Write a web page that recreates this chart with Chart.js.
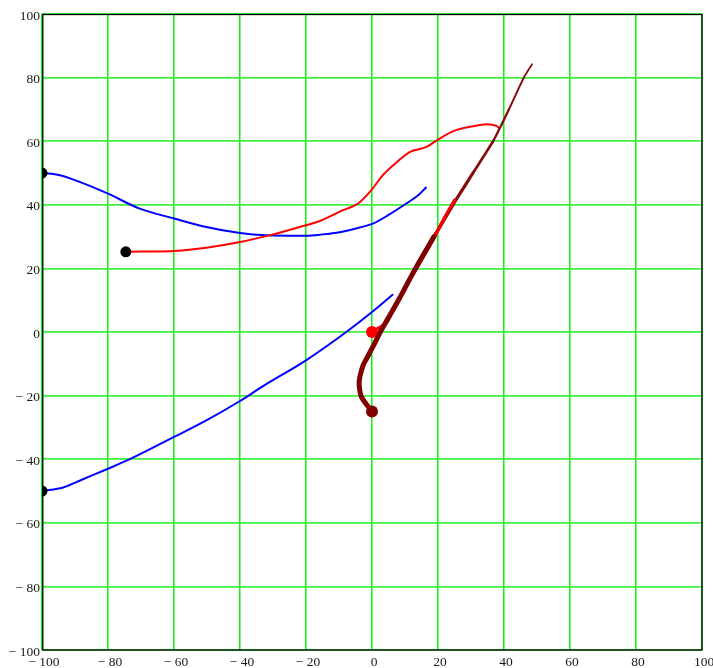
<!DOCTYPE html>
<html>
<head>
<meta charset="utf-8">
<script src="https://cdn.jsdelivr.net/npm/chart.js@4/dist/chart.umd.min.js"></script>
<style>
  html, body { margin: 0; padding: 0; background: #ffffff; }
  #wrap { width: 713px; height: 668px; }
</style>
</head>
<body>
<div id="wrap"><canvas id="c" width="713" height="668"></canvas></div>
<script>
// ---- data ----
const xTicks = [-100, -80, -60, -40, -20, 0, 20, 40, 60, 80, 100];
const yTicks = [-100, -80, -60, -40, -20, 0, 20, 40, 60, 80, 100];

const blueUpperX = [-100, -94.6, -88.6, -80, -70.4, -60, -50.2, -40, -32, -25, -20, -15, -9.8, -4, 0.3, 5, 10.4, 14, 16.5];
const blueUpperY = [50, 49.3, 47.2, 43.5, 38.8, 35.7, 33, 31.1, 30.4, 30.3, 30.3, 30.7, 31.4, 32.8, 34.1, 36.8, 40.4, 43, 45.6];

const blueLowerX = [-100, -93.6, -87.6, -80, -73.4, -60, -50.2, -40, -33, -20, -7.8, 0, 6.4];
const blueLowerY = [-50, -48.9, -46.3, -43, -40, -33, -27.8, -21.7, -17, -8.9, 0, 6.3, 11.9];

const redCurveX = [-74.6, -70, -60, -50.2, -40, -30, -21.9, -15.8, -8.8, -4.2, -0.2, 2.8, 6.4, 11.4, 16.5, 20, 24.5, 30.6, 34.7, 37.7, 38.5];
const redCurveY = [25.2, 25.3, 25.5, 26.5, 28.3, 30.7, 33, 34.9, 38.3, 40.4, 44.6, 48.7, 52.4, 56.6, 58.2, 60.5, 63.1, 64.7, 65.3, 64.8, 64.2];

const redShortX = [0, 2, 4.5, 7.3, 13, 18.5, 22, 25];
const redShortY = [0, 1.3, 3, 9, 19, 29, 36, 41.5];

const maroonX = [0, -3.2, -3.9, -3.7, -2.7, -1.7, 0.8, 2.5, 8, 13.2, 18.8, 24.5, 30.6, 36.7, 41.5, 46, 48.5];
const maroonY = [-25, -20.4, -16.5, -14.2, -10.5, -8.5, -3.6, 0, 10, 20, 30, 40, 50, 60, 70, 80, 84.2];
const maroonSplit = 10; // index where the upper, thinner part begins

// ---- helpers ----
function pts(xs, ys) { return xs.map((x, i) => ({ x: x, y: ys[i] })); }
const maroonPts = pts(maroonX, maroonY);
const maroonLow = maroonPts.slice(0, maroonSplit + 1);
const maroonHigh = maroonPts.slice(maroonSplit);
const highWidths = [3.6, 3.2, 2.7, 2.3, 2.0, 1.7];

function firstDot(r) { return ctx => ctx.dataIndex === 0 ? r : 0; }

const fmt = v => v < 0 ? '\u2212 ' + Math.abs(v) : String(v);

const borderPlugin = {
  id: 'frame',
  afterDraw(chart) {
    const a = chart.chartArea, g = chart.ctx;
    g.save();
    g.strokeStyle = '#000';
    g.lineWidth = 1.3;
    g.strokeRect(a.left + 0.8, a.top + 0.5, a.right - a.left - 0.8, a.bottom - a.top - 0.5);
    g.restore();
  }
};

new Chart(document.getElementById('c'), {
  type: 'scatter',
  data: {
    datasets: [
      { // lower maroon part, on top
        data: maroonLow, showLine: true, borderColor: '#800000', borderWidth: 5,
        pointRadius: firstDot(6), pointBackgroundColor: '#800000', pointBorderWidth: 0,
        borderCapStyle: 'round', borderJoinStyle: 'round', tension: 0.3
      },
      { // short red line
        data: pts(redShortX, redShortY), showLine: true, borderColor: '#ff0000', borderWidth: 3,
        pointRadius: firstDot(6), pointBackgroundColor: '#ff0000', pointBorderWidth: 0,
        borderCapStyle: 'round', borderJoinStyle: 'round', tension: 0.2
      },
      { // upper maroon part, below red
        data: maroonHigh, showLine: true, borderColor: '#850a0a', borderWidth: 3,
        segment: { borderWidth: ctx => highWidths[Math.min(ctx.p0DataIndex, highWidths.length - 1)] },
        pointRadius: 0, borderCapStyle: 'round', borderJoinStyle: 'round', tension: 0.2
      },
      { // red curve
        data: pts(redCurveX, redCurveY), showLine: true, borderColor: '#ff0000', borderWidth: 2,
        pointRadius: firstDot(5.5), pointBackgroundColor: '#000', pointBorderWidth: 0,
        cubicInterpolationMode: 'monotone', clip: 0
      },
      { // upper blue curve
        data: pts(blueUpperX, blueUpperY), showLine: true, borderColor: '#0000ff', borderWidth: 2,
        pointRadius: firstDot(5.5), pointBackgroundColor: '#000', pointBorderWidth: 0,
        cubicInterpolationMode: 'monotone', clip: 0
      },
      { // lower blue curve
        data: pts(blueLowerX, blueLowerY), showLine: true, borderColor: '#0000ff', borderWidth: 2,
        pointRadius: firstDot(5.5), pointBackgroundColor: '#000', pointBorderWidth: 0,
        cubicInterpolationMode: 'monotone', clip: 0
      }
    ]
  },
  options: {
    responsive: false,
    animation: false,
    events: [],
    layout: { padding: { left: 0, top: 14, right: 11, bottom: 0 } },
    plugins: { legend: { display: false }, tooltip: { enabled: false } },
    scales: {
      x: {
        type: 'linear', min: -100, max: 100,
        afterBuildTicks: s => { s.ticks = xTicks.map(v => ({ value: v })); },
        afterFit: s => { s.height = 18; s.paddingLeft = 0; s.paddingRight = 0; },
        grid: { color: '#10ee10', lineWidth: 1.5, drawTicks: false },
        border: { display: false },
        ticks: {
          callback: fmt, padding: 4, labelOffset: 2, maxRotation: 0, autoSkip: false,
          color: '#1a1a1a', font: { family: '"Liberation Serif", "DejaVu Serif", serif', size: 13.5 }
        }
      },
      y: {
        type: 'linear', min: -100, max: 100,
        afterBuildTicks: s => { s.ticks = yTicks.map(v => ({ value: v })); },
        afterFit: s => { s.width = 42; s.paddingTop = 0; s.paddingBottom = 0; },
        grid: { color: '#40f040', lineWidth: 1.8, drawTicks: false },
        border: { display: false },
        ticks: {
          callback: fmt, padding: 2, labelOffset: 2, autoSkip: false,
          color: '#1a1a1a', font: { family: '"Liberation Serif", "DejaVu Serif", serif', size: 13.5 }
        }
      }
    }
  },
  plugins: [borderPlugin]
});
</script>
</body>
</html>
